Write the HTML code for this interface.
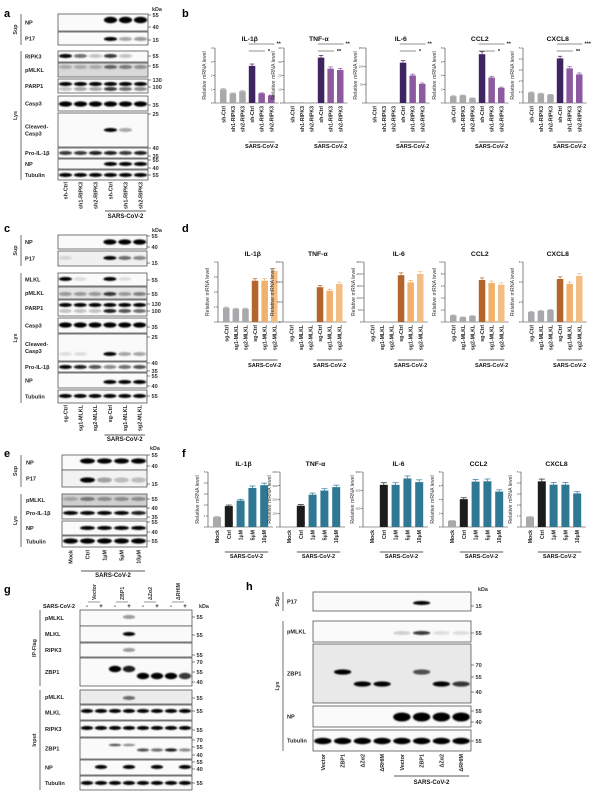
<!DOCTYPE html>
<html><head><meta charset="utf-8"><style>
html,body{margin:0;padding:0;background:#fff}
svg{display:block}
text{font-family:"Liberation Sans",Arial,sans-serif}
</style></head><body>
<svg id="s" width="600" height="793" viewBox="0 0 600 793" xmlns="http://www.w3.org/2000/svg">
<defs><filter id="bl" x="-20%" y="-100%" width="140%" height="300%"><feGaussianBlur stdDeviation="0.7"/></filter></defs>
</svg>
<script>
var S=document.getElementById('s');var o='';
function T(x,y,t,sz,opt){opt=opt||{};var a=opt.a||'start',w=opt.w||'normal',r=opt.r?' transform="rotate(-90 '+x+' '+y+')"':'';
o+='<text x="'+x+'" y="'+y+'" font-size="'+sz+'" text-anchor="'+a+'" font-weight="'+w+'" fill="'+(opt.c||'#111')+'"'+r+'>'+t+'</text>';}
function L(x1,y1,x2,y2,c,w){o+='<line x1="'+x1+'" y1="'+y1+'" x2="'+x2+'" y2="'+y2+'" stroke="'+(c||'#222')+'" stroke-width="'+(w||0.7)+'"/>';}
function R(x,y,w,h,f,s){o+='<rect x="'+x+'" y="'+y+'" width="'+w+'" height="'+h+'" fill="'+f+'"'+(s?' stroke="'+s+'" stroke-width="0.8"':'')+'/>';}
function blot(x0,x1,n,rows,lx){var lw=(x1-x0)/n;
rows.forEach(function(r){R(x0,r[0],x1-x0,r[1]-r[0],r[4]||'#fafafa','#555');
 var lab=r[2].split('|');lab.forEach(function(s,i){T(lx,(r[0]+r[1])/2+2+ (i-(lab.length-1)/2)*7,s,5.6,{w:'bold',c:'#222'});});
 (r[3]||[]).forEach(function(b){var y=b[0],v=b[1],h=(b[2]||3)*1.3;v.forEach(function(a,i){if(a>0){var cx=x0+lw*(i+0.5);
  o+='<ellipse cx="'+cx+'" cy="'+y+'" rx="'+(lw*0.44)+'" ry="'+(h/2)+'" fill="#000" opacity="'+Math.min(1,a*1.1)+'" filter="url(#bl)"/>';}});});
 (r[5]||[]).forEach(function(k){L(x1,k[1],x1+3,k[1],'#333',0.6);T(x1+4.5,k[1]+1.8,k[0],5.6,{w:'bold',c:'#333'});});
});}
function bracket(x,y0,y1,t){L(x,y0,x,y1,'#333',0.7);T(x-4,(y0+y1)/2,t,5.4,{r:1,a:'middle',w:'bold',c:'#333'});}
function lanes(x0,x1,n,y,labs,s0,s1,ly,sy){var lw=(x1-x0)/n;labs.forEach(function(t,i){T(x0+lw*(i+0.5)+2,y,t,5.4,{r:1,a:'end',w:'bold',c:'#222'});});
 if(s0!=null){L(x0+lw*s0+2,ly,x0+lw*(s1+1)-2,ly,'#222',0.7);T(x0+lw*(s0+s1+1)/2,sy,'SARS-CoV-2',6,{a:'middle',w:'bold'});}}
function chart(ax,top,bot,title,max,ticks,vals,cols,step,bw,labs,s0,ly,sy,sig,errs){
 T(ax+(vals.length*step)/2+6,top-6-(sig?1:0),title,6.8,{a:'middle',w:'bold'});
 L(ax,top,ax,bot,'#333',0.6);L(ax,bot,ax+vals.length*step+6,bot,'#333',0.6);
 ticks.forEach(function(t){var y=bot-(bot-top)*t/max;L(ax-2,y,ax,y,'#333',0.5);T(ax-2.5,y+1,t,3,{a:'end',c:'#444'});});
 T(ax-9,(top+bot)/2,'Relative mRNA level',5.3,{r:1,a:'middle',c:'#333'});
 vals.forEach(function(v,i){var x=ax+5+i*step,h=(bot-top)*v/max;R(x,bot-h,bw,h,cols[i]);
  var e=(errs&&errs[i])||0.05*v;if(v>0){L(x+bw/2,bot-h-e*(bot-top)/max,x+bw/2,bot-h,cols[i],0.7);L(x+1,bot-h-e*(bot-top)/max,x+bw-1,bot-h-e*(bot-top)/max,cols[i],0.7);}
  T(x+bw/2+2,bot+3,labs[i],5.2,{r:1,a:'end',w:'bold',c:'#222'});});
 var xs=ax+5+s0*step,xe=ax+5+(vals.length-1)*step+bw;L(xs,ly,xe,ly,'#222',0.7);T((xs+xe)/2,sy,'SARS-CoV-2',5.6,{a:'middle',w:'bold'});
 if(sig){var xa=ax+5+s0*step;L(xa,top-4,xe,top-4,'#222',0.6);T(xe+2,top-2.5,sig[0],5.5,{w:'bold'});
  L(xa,top+3,xa+step+bw,top+3,'#222',0.6);T(xa+step+bw+3,top+5,sig[1],5.5,{w:'bold'});}
}
[['a',4,17],['b',182,17],['c',4,232],['d',182,232],['e',4,457],['f',182,457],['g',4,593],['h',246,590]].forEach(function(p){T(p[1],p[2],p[0],11,{w:'bold',c:'#000'});});
T(152,11,'kDa',5.4,{w:'bold',c:'#333'});
var F=[1,1,1,1,1,1];
blot(58,148,6,[
[14,31,'NP',[[20,[0,0,0,1,0.9,0.9],5]],0,[['55',15],['40',27]]],
[32,45,'P17',[[39,[0,0,0,0.95,0.3,0.35]]],0,[['15',40]]],
[51,62,'RIPK3',[[56,[0.9,0.5,0.2,0.7,0.2,0]]],0,[['55',56]]],
[63,77,'pMLKL',[[67,[0.2,0.2,0.2,0.5,0.4,0.3]]],'#d8d8d8',[['55',66]]],
[79,93,'PARP1',[[84,F],[89,[0.2,0.3,0.3,0.7,0.5,0.4]]],0,[['130',80],['100',87]]],
[96,111,'Casp3',[[104,F,4]],0,[['35',105]]],
[113,147,'Cleaved-|Casp3',[[130,[0,0,0,0.9,0.3,0]]],0,[['25',114]]],
[148,158,'Pro-IL-1β',[[153,[0.7,0.7,0.8,0.8,0.7,0.8]]],0,[['40',148],['35',156]]],
[159,169,'NP',[[164,[0,0,0,1,1,1]]],0,[['55',160],['40',168]]],
[170,180,'Tubulin',[[175,F]],0,[['55',175]]]],25);
bracket(21,14,45,'Sup');bracket(21,51,180,'Lys');
lanes(58,148,6,182,['sh-Ctrl','sh1-RIPK3','sh2-RIPK3','sh-Ctrl','sh1-RIPK3','sh2-RIPK3'],3,5,211,218);
var shl=['sh-Ctrl','sh1-RIPK3','sh2-RIPK3','sh-Ctrl','sh1-RIPK3','sh2-RIPK3'];
var pc=['#a9a9ab','#a9a9ab','#a9a9ab','#3f2462','#8d5aa0','#8d5aa0'];
var bax=[215,284,366,445,523];
var bd=[['IL-1β',4,[0,1,2,3,4],[1,0.7,0.85,2.7,0.7,0.55],['**','*']],
['TNF-α',40,[0,10,20,30,40],[0.3,0.3,0.3,33,25,24],['**','**']],
['IL-6',150,[0,50,100,150],[0,0,0,110,75,52],['**','*']],
['CCL2',8,[0,2,4,6,8],[1,1.1,0.7,7.1,3.7,2.2],['**','*']],
['CXCL8',5,[0,1,2,3,4,5],[0.95,0.85,0.75,4.05,3.15,2.6],['***','**']]];
bd.forEach(function(d,i){chart(bax[i],48,103,d[0],d[1],d[2],d[3],pc,9.6,6.5,shl,3,142,148,d[4]);});
T(152,232,'kDa',5.4,{w:'bold',c:'#333'});
blot(58,147,6,[
[235,249,'NP',[[242,[0,0,0,1,1,1],4]],0,[['55',236],['40',247]]],
[251,266,'P17',[[258,[0.1,0,0,0.9,0.5,0.4]]],'#f0f0f0',[['15',263]]],
[273,286,'MLKL',[[279,[1,0.1,0,1,0.1,0]]],0,[['55',280]]],
[287,299,'pMLKL',[[294,[0.3,0.3,0.3,0.7,0.3,0.4]]],'#e4e4e4',[['55',294]]],
[300,316,'PARP1',[[305,F],[311,[0.2,0.2,0.2,0.8,0.6,0.5]]],0,[['130',304],['100',311]]],
[318,333,'Casp3',[[325,F,4]],0,[['35',327]]],
[334,361,'Cleaved-|Casp3',[[354,[0.1,0.1,0,0.9,0.3,0.3]]],0,[['25',337]]],
[362,372,'Pro-IL-1β',[[367,[0.9,0.8,0.6,0.4,0.5,0.6]]],0,[['40',363],['35',371]]],
[373,388,'NP',[[382,[0,0,0,1,1,1]]],0,[['55',376],['40',386]]],
[390,403,'Tubulin',[[396,F]],0,[['55',396]]]],25);
bracket(21,235,266,'Sup');bracket(21,273,403,'Lys');
lanes(58,147,6,405,['sg-Ctrl','sg1-MLKL','sg2-MLKL','sg-Ctrl','sg1-MLKL','sg2-MLKL'],3,5,435,441);
var sgl=['sg-Ctrl','sg1-MLKL','sg2-MLKL','sg-Ctrl','sg1-MLKL','sg2-MLKL'];
var oc=['#a9a9ab','#a9a9ab','#a9a9ab','#b4652b','#f1b06c','#f3be85'];
var dax=[218,283,364,445,523];
var dd=[['IL-1β',4,[0,1,2,3,4],[0.95,0.88,0.88,2.75,2.75,3.4]],
['TNF-α',150,[0,50,100,150],[0,0,0,87,78,95]],
['IL-6',250,[0,50,100,150,200,250],[0,0,0,195,165,200]],
['CCL2',10,[0,2,4,6,8,10],[1.1,0.8,1,7,6.5,6.2]],
['CXCL8',6,[0,2,4,6],[1,1.1,1.2,4.3,3.8,4.6]]];
dd.forEach(function(d,i){chart(dax[i],262,322,d[0],d[1],d[2],d[3],oc,9.6,6.5,sgl,3,360,367,null);});
T(150,450,'kDa',5.4,{w:'bold',c:'#333'});
var F5=[1,1,1,1,1];
blot(62,147,5,[
[455,470,'NP',[[461,[0,1,0.9,0.9,0.9],4]],0,[['55',455],['40',466]]],
[470,487,'P17',[[480,[0,1,0.3,0.2,0.2],4]],'#f2f2f2',[['15',484]]],
[494,506,'pMLKL',[[499,[0.2,0.4,0.3,0.3,0.3]]],'#cfcfcf',[['55',499]]],
[507,519,'Pro-IL-1β',[[513,[0.9,0.9,0.9,0.9,0.8]]],0,[['40',508],['35',517]]],
[521,535,'NP',[[528,[0,1,1,1,1]]],0,[['55',522],['40',532]]],
[536,547,'Tubulin',[[541,F5,4]],0,[['55',541]]]],26);
bracket(21,455,487,'Sup');bracket(21,494,547,'Lys');
lanes(62,147,5,550,['Mock','Ctrl','1μM','5μM','10μM'],1,4,571,577);
var fl=['Mock','Ctrl','1μM','5μM','10μM'];
var tc=['#a9a9ab','#1c1c1c','#2f7894','#2f7894','#2f7894'];
var fax=[208,280,363,443,521];
var fd=[['IL-1β',5,[0,1,2,3,4,5],[0.9,1.9,2.4,3.55,3.8]],
['TNF-α',400,[0,100,200,300,400],[0,155,235,265,290]],
['IL-6',300,[0,100,200,300],[0,230,230,265,245]],
['CCL2',8,[0,2,4,6,8],[0.9,4.05,6.6,6.65,5.15]],
['CXCL8',5,[0,1,2,3,4,5],[0.9,4.15,3.85,3.85,3.05]]];
fd.forEach(function(d,i){chart(fax[i],472,527,d[0],d[1],d[2],d[3],tc,11.8,8,fl,1,552,558,null);});
T(75,608,'SARS-CoV-2',5.4,{a:'end',w:'bold'});T(199,608,'kDa',5.4,{w:'bold',c:'#333'});
var gw=112/8;['-','+','-','+','-','+','-','+'].forEach(function(s,i){T(80+gw*(i+0.5),608,s,6,{a:'middle',w:'bold'});});
['Vector','ZBP1','ΔZα2','ΔRHIM'].forEach(function(s,i){var cx=80+gw*(2*i+1);T(cx+2,600,s,5.2,{r:1,a:'start',w:'bold',c:'#333'});L(cx-6,602,cx+6,602,'#333',0.5);});
var F8=[1,1,1,1,1,1,1,1];
blot(80,192,8,[
[610,626,'pMLKL',[[617,[0,0,0,0.35,0,0,0,0]]],0,[['55',617]]],
[626,642,'MLKL',[[634,[0,0,0,0.9,0,0,0,0]]],0,[['55',635]]],
[643,657,'RIPK3',[[650,[0,0,0,0.35,0,0,0,0]]],0,[['55',655]]],
[658,686,'ZBP1',[[669,[0,0,1.2,0.8,0,0,0,0],5],[676,[0,0,0,0,1,0.9,1,0.7],5]],0,[['70',662],['55',672],['40',682]]],
[690,704,'pMLKL',[[698,[0,0,0,0.5,0,0,0,0]]],'#ececec',[['55',698]]],
[705,720,'MLKL',[[711,F8]],0,[['55',711]]],
[721,737,'RIPK3',[[728,F8]],0,[['55',730]]],
[738,759,'ZBP1',[[745,[0,0,0.6,0.4,0,0,0,0],2],[750,[0,0,0,0,0.6,0.5,0.8,0.4],2.5]],0,[['70',740],['55',747],['40',755]]],
[760,775,'NP',[[767,[0,0.9,0,1,0,0.9,0,1]]],0,[['55',762],['40',769]]],
[776,790,'Tubulin',[[783,F8]],0,[['55',783]]]],45);
bracket(40,610,686,'IP-Flag');bracket(40,690,790,'Input');
T(478,591,'kDa',5.4,{w:'bold',c:'#333'});
blot(313,471,8,[
[592,611,'P17',[[603,[0,0,0,0,0,0.9,0,0]]],0,[['15',606]]],
[621,642,'pMLKL',[[633,[0,0,0,0,0.15,0.7,0.1,0.1]]],0,[['55',633]]],
[644,703,'ZBP1',[[672,[0,1,0,0,0,0.6,0,0],4],[684,[0,0,0.9,0.9,0,0,0.9,0.7],4]],'#e9e9e9',[['70',665],['55',677],['40',692]]],
[706,727,'NP',[[717,[0,0,0,0,1,1,1,1],7]],0,[['55',711],['40',722]]],
[730,751,'Tubulin',[[741,F8,5]],0,[['55',741]]]],287);
bracket(283,592,611,'Sup');bracket(283,621,751,'Lys');
lanes(313,471,8,754,['Vector','ZBP1','ΔZα2','ΔRHIM','Vector','ZBP1','ΔZα2','ΔRHIM'],4,7,776,784);
S.innerHTML+=o;
</script>
</body></html>
